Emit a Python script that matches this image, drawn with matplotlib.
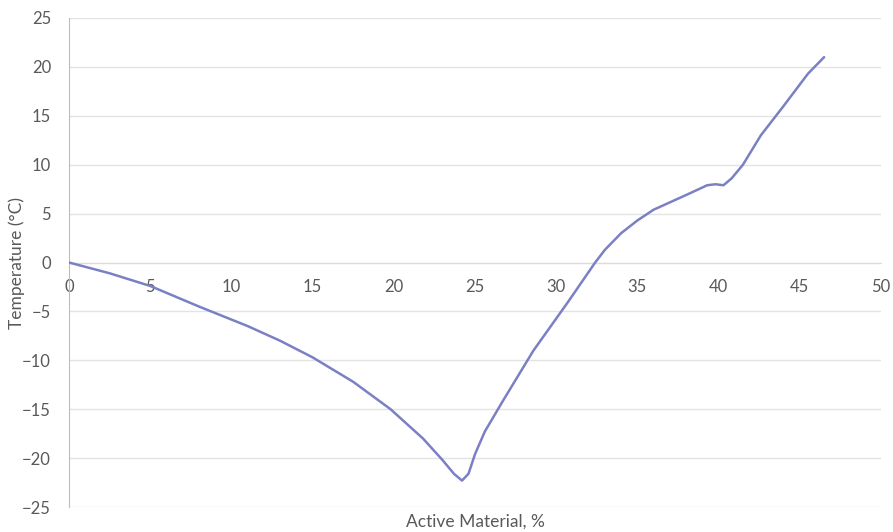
import matplotlib
matplotlib.use("Agg")
import matplotlib.pyplot as plt

# values
active_pct = [0, 2.5, 5, 8, 11, 13, 15, 17.5, 19.8, 21.8, 23, 23.7, 24.2, 24.6,
              25.0, 25.6, 26.7, 28.6, 30.7, 32.4, 33.0, 34.0, 35.0, 36, 38,
              39.3, 39.8, 40.3, 40.8, 41.5, 42.6, 44, 45.5, 46.5]
temp_c = [0, -1.1, -2.4, -4.5, -6.5, -8.0, -9.7, -12.2, -15.0, -18.0, -20.2,
          -21.6, -22.3, -21.6, -19.6, -17.3, -14.2, -9.0, -4.1, 0, 1.3, 3.0,
          4.3, 5.4, 6.9, 7.9, 8.0, 7.9, 8.6, 10.0, 13.0, 16.0, 19.3, 21.0]

x_ticks = list(range(0, 51, 5))
y_ticks = list(range(-25, 26, 5))

plt.rcParams['font.family'] = ['Lato', 'DejaVu Sans']
txt = '#595959'

fig = plt.figure(figsize=(8.93, 5.32), dpi=100)
ax = fig.add_axes([69 / 893, 25 / 532, 812 / 893, 489 / 532])

ax.plot(active_pct, temp_c, color='#7b80c4', lw=1.8, solid_capstyle='round',
        solid_joinstyle='round', zorder=3)

ax.set_xlim(0, 50)
ax.set_ylim(-25, 25)
ax.set_xticks(x_ticks)
ax.set_yticks(y_ticks)

ax.grid(axis='y', color='#e3e3e3', lw=1.0)
ax.set_axisbelow(True)

for s in ['top', 'right']:
    ax.spines[s].set_visible(False)
ax.spines['bottom'].set_position(('data', 0))
ax.spines['bottom'].set_color('#dcdcdc')
ax.spines['left'].set_color('#bdbdbd')
ax.spines['left'].set_linewidth(0.8)

ax.tick_params(axis='both', length=0, labelsize=12, colors=txt)
ax.tick_params(axis='x', pad=12)
ax.tick_params(axis='y', pad=13)

fig.text(475 / 893, 1 - 522 / 532, 'Active Material, %', ha='center',
         va='center', fontsize=12.5, color=txt)
fig.text(17 / 893, 1 - 263 / 532, 'Temperature (°C)', ha='center',
         va='center', rotation=90, fontsize=12.5, color=txt)

fig.savefig('out.png', dpi=100)
